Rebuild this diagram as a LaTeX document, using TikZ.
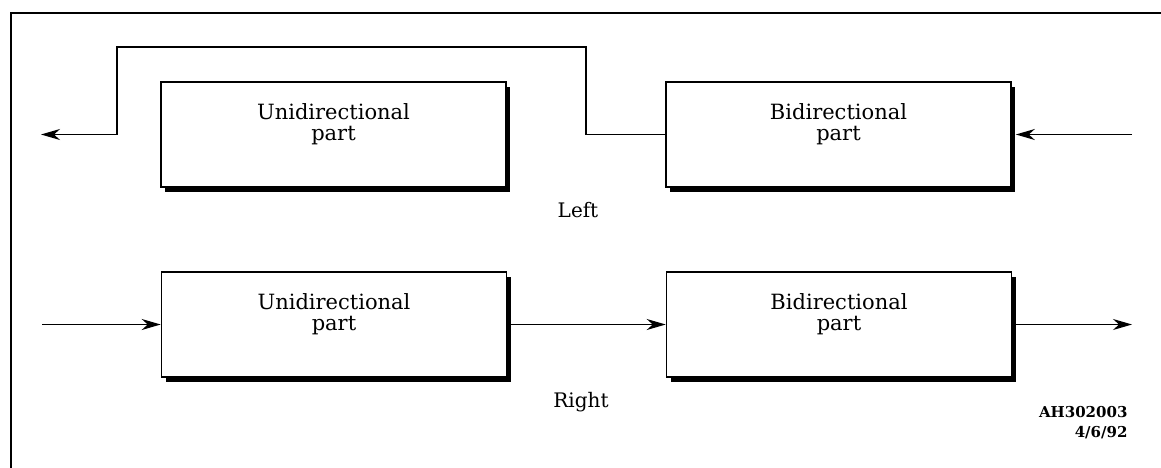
\documentclass[tikz,border=0pt]{standalone}
\usepackage{fontspec}
\setmainfont{DejaVu Serif}
\usetikzlibrary{arrows.meta,shadows}

\tikzset{
  partbox/.style={draw, fill=white, line width=1.6pt,
    minimum width=345pt, minimum height=105pt,
    drop shadow={shadow xshift=4pt, shadow yshift=-5pt, fill=black, opacity=1}},
  boxtext/.style={align=center, yshift=10pt,
    font=\fontsize{21}{21}\selectfont},
  flow/.style={line width=1.4pt, -{Stealth[length=19pt,width=11pt,inset=6pt]}},
  caption/.style={font=\fontsize{20}{22}\selectfont},
  stamp/.style={font=\fontsize{15}{21}\bfseries\selectfont, anchor=east}
}

\begin{document}
\begin{tikzpicture}[x=1pt, y=-1pt]
  \clip (0,0) rectangle (1161,468);
  % outer frame (runs off the right and bottom)
  \draw[line width=2.6pt] (11,480) -- (11,13) -- (1175,13);

  % upper path: feedback to the left
  \node[partbox, label={[boxtext]center:Unidirectional\\part}] (uL) at (333.5,134.5) {};
  \node[partbox, label={[boxtext]center:Bidirectional\\part}] (bL) at (838.5,134.5) {};
  \node[caption] (lblL) at (578,210) {Left};

  \coordinate (upR) at (586,47);
  \coordinate (upL) at (117,47);
  \coordinate (outL) at (41,134.5);
  \coordinate (inR) at (1132,134.5);

  \draw[flow] (bL.west) -| (upR) -- (upL) |- (outL);
  \draw[flow] (inR) -- ([xshift=4pt]bL.east);

  % lower path: straight through to the right
  \node[partbox, label={[boxtext]center:Unidirectional\\part}] (uR) at (334,324.5) {};
  \node[partbox, label={[boxtext]center:Bidirectional\\part}] (bR) at (839,324.5) {};
  \node[caption] (lblR) at (581,402) {Right};

  \coordinate (inL) at (42,324.5);
  \coordinate (outR) at (1132,324.5);

  \draw[flow] (inL) -- (uR.west);
  \draw[flow] ([xshift=4pt]uR.east) -- (bR.west);
  \draw[flow] ([xshift=4pt]bR.east) -- (outR);

  % drawing reference
  \node[stamp] (code) at (1131,412) {AH302003};
  \node[stamp] (date) at (1131,433) {4/6/92};
\end{tikzpicture}
\end{document}
